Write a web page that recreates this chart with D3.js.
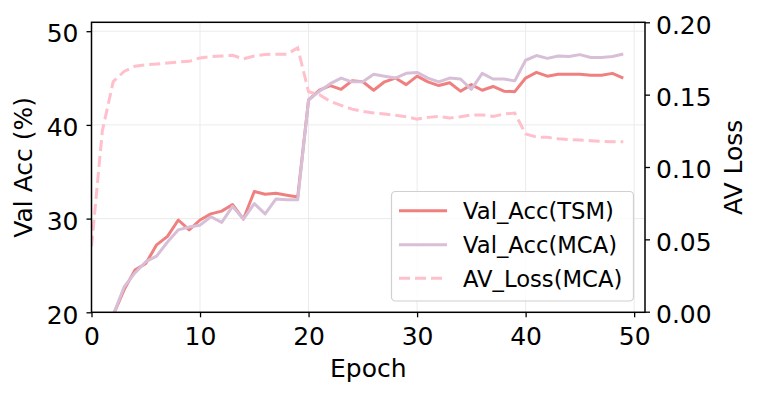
<!DOCTYPE html>
<html>
<head>
<meta charset="utf-8">
<script src="https://cdn.jsdelivr.net/npm/d3@7"></script>
<style>
  body { margin: 0; background: #fff; }
  svg { display: block; }
  text { font-family: "DejaVu Sans", sans-serif; fill: #000; }
</style>
</head>
<body>
<svg id="chart" width="761" height="396"></svg>
<script>
const epochs = d3.range(0, 50);
const accTSM = [12.0, 16.5, 19.7, 22.4, 24.5, 25.2, 27.2, 28.1, 29.85, 28.8,
  29.85, 30.5, 30.8, 31.5, 29.95, 32.9, 32.6, 32.7, 32.5, 32.3,
  42.66, 43.7, 44.2, 43.8, 44.7, 44.6, 43.7, 44.6, 45.0, 44.3,
  45.2, 44.6, 44.2, 44.5, 43.6, 44.3, 43.7, 44.1, 43.6, 43.55,
  45.0, 45.6, 45.2, 45.4, 45.4, 45.4, 45.3, 45.3, 45.5, 45.0];
const accMCA = [12.0, 16.5, 19.7, 22.7, 24.2, 25.4, 26.0, 27.5, 28.8, 29.1,
  29.3, 30.2, 29.6, 31.3, 29.95, 31.6, 30.5, 32.1, 32.0, 32.0,
  42.66, 43.6, 44.4, 45.0, 44.6, 44.6, 45.4, 45.2, 45.0, 45.5,
  45.6, 45.0, 44.6, 45.0, 44.9, 43.8, 45.5, 44.9, 44.9, 44.7,
  46.9, 47.4, 47.1, 47.35, 47.3, 47.5, 47.2, 47.2, 47.3, 47.56];
const avLoss = [0.045, 0.125, 0.159, 0.166, 0.1696, 0.1707, 0.1712, 0.1719, 0.1726, 0.173,
  0.1754, 0.1763, 0.1767, 0.1772, 0.1747, 0.1767, 0.1777, 0.178, 0.178, 0.1823,
  0.152, 0.150, 0.1453, 0.1426, 0.140, 0.1384, 0.1373, 0.1366, 0.1357, 0.1347,
  0.1331, 0.1343, 0.135, 0.1338, 0.1347, 0.136, 0.136, 0.135, 0.1366, 0.1373,
  0.1228, 0.1207, 0.1205, 0.1196, 0.119, 0.1186, 0.1182, 0.1177, 0.1175, 0.1175];
const xTicks = [0, 10, 20, 30, 40, 50];
const yLeftTicks = [20, 30, 40, 50];
const yRightTicks = [0, 0.05, 0.10, 0.15, 0.20];
const seriesNames = ["Val_Acc(TSM)", "Val_Acc(MCA)", "AV_Loss(MCA)"];
const colors = ["#f08080", "#d8bfd8", "#ffc0cb"];

const svg = d3.select("#chart");
const L = 91.5, R = 645, T = 22.3, B = 312.3;
const FS = 25, LFS = 22.7;

const x = d3.scaleLinear().domain([0, 51]).range([L, R]);
const yL = d3.scaleLinear().domain([20, 50.95]).range([B, T]);
const yR = d3.scaleLinear().domain([0, 0.20]).range([B - 0.6, T]);

svg.append("defs").append("clipPath").attr("id", "clip")
  .append("rect").attr("x", L).attr("y", T).attr("width", R - L).attr("height", B - T);

// grid
const grid = svg.append("g").attr("stroke", "#ebebeb").attr("stroke-width", 1);
xTicks.forEach(t => grid.append("line").attr("x1", x(t)).attr("x2", x(t)).attr("y1", T).attr("y2", B));
yLeftTicks.forEach(t => grid.append("line").attr("x1", L).attr("x2", R).attr("y1", yL(t)).attr("y2", yL(t)));

const plot = svg.append("g").attr("clip-path", "url(#clip)");
const lineL = d3.line().x((d, i) => x(epochs[i])).y(d => yL(d));
const lineR = d3.line().x((d, i) => x(epochs[i])).y(d => yR(d));

plot.append("path").datum(accTSM).attr("d", lineL).attr("fill", "none")
  .attr("stroke", colors[0]).attr("stroke-width", 3).attr("stroke-linejoin", "round");
plot.append("path").datum(accMCA).attr("d", lineL).attr("fill", "none")
  .attr("stroke", colors[1]).attr("stroke-width", 3).attr("stroke-linejoin", "round");
plot.append("path").datum(avLoss).attr("d", lineR).attr("fill", "none")
  .attr("stroke", colors[2]).attr("stroke-width", 3).attr("stroke-dasharray", "11,5");

// axes
const axB = d3.axisBottom(x).tickValues(xTicks).tickSize(5).tickPadding(6).tickFormat(d3.format("d"));
const axL = d3.axisLeft(yL).tickValues(yLeftTicks).tickSize(5).tickPadding(6).tickFormat(d3.format("d"));
const axR = d3.axisRight(yR).tickValues(yRightTicks).tickSize(5).tickPadding(6).tickFormat(d3.format(".2f"));

function style(g) {
  g.select(".domain").remove();
  g.selectAll(".tick line").attr("stroke", "#000").attr("stroke-width", 1.3);
  g.selectAll(".tick text").attr("font-size", FS).attr("font-family", "DejaVu Sans").attr("fill", "#000");
}
svg.append("g").attr("transform", `translate(0,${B})`).call(axB).call(style)
  .selectAll(".tick text").attr("dy", null).attr("y", 33);
svg.append("g").attr("transform", `translate(${L},0)`).call(axL).call(style)
  .selectAll(".tick text").attr("dy", "0.43em").attr("x", -13);
svg.append("g").attr("transform", `translate(${R},0)`).call(axR).call(style)
  .selectAll(".tick text").attr("dy", "0.43em").attr("x", 11);

// spines
svg.append("rect").attr("x", L).attr("y", T).attr("width", R - L).attr("height", B - T)
  .attr("fill", "none").attr("stroke", "#000").attr("stroke-width", 1.5);

// labels
svg.append("text").attr("x", (L + R) / 2).attr("y", 377).attr("text-anchor", "middle")
  .attr("font-size", FS).text("Epoch");
svg.append("text").attr("transform", `translate(32,${(T + B) / 2}) rotate(-90)`)
  .attr("text-anchor", "middle").attr("font-size", FS).text("Val Acc (%)");
svg.append("text").attr("transform", `translate(742,${(T + B) / 2}) rotate(-90)`)
  .attr("text-anchor", "middle").attr("font-size", FS).text("AV Loss");

// legend
const lg = svg.append("g");
lg.append("rect").attr("x", 391.5).attr("y", 191.5).attr("width", 242).attr("height", 109.5)
  .attr("rx", 4).attr("fill", "rgba(255,255,255,0.8)").attr("stroke", "#d0d0d0").attr("stroke-width", 1.2);
const baselines = [219.3, 253.3, 286.7];
seriesNames.forEach((name, i) => {
  const ly = baselines[i] - 8.5;
  lg.append("line").attr("x1", 399).attr("x2", 447).attr("y1", ly).attr("y2", ly)
    .attr("stroke", colors[i]).attr("stroke-width", 3)
    .attr("stroke-dasharray", i === 2 ? "11,5" : null);
  lg.append("text").attr("x", 463).attr("y", baselines[i]).attr("font-size", LFS).text(name);
});
</script>
</body>
</html>
